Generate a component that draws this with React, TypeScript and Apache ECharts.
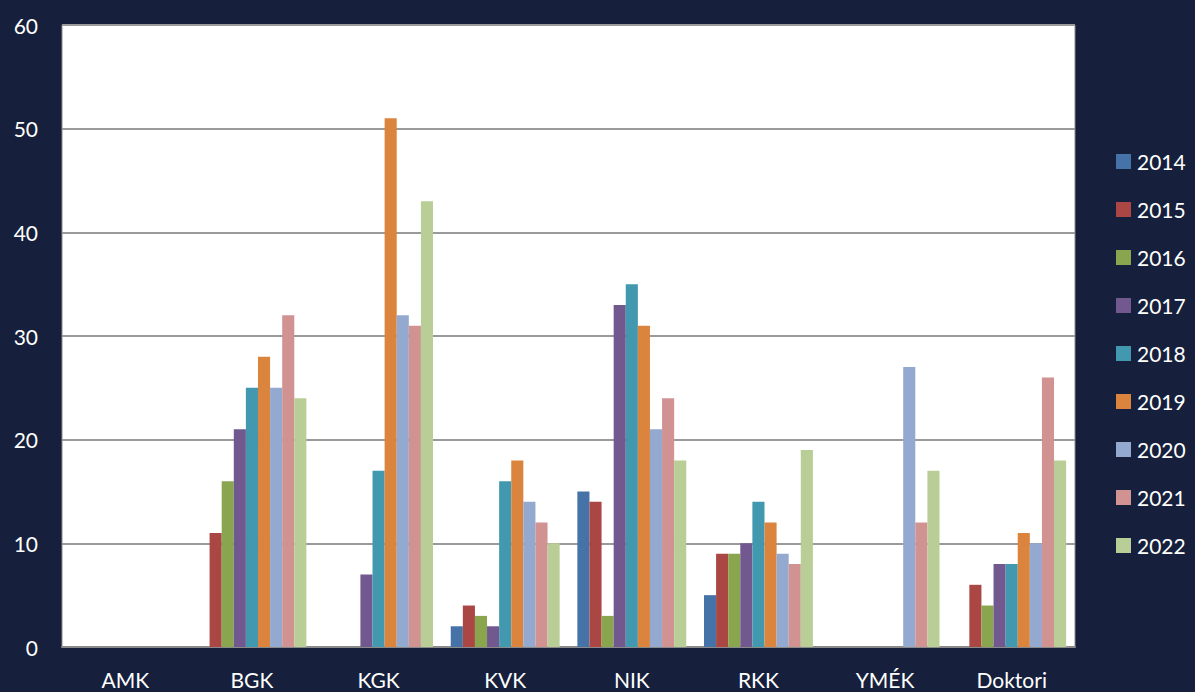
import React, { useEffect, useRef } from "react";
import * as echarts from "echarts";

const categories = ["AMK", "BGK", "KGK", "KVK", "NIK", "RKK", "YMÉK", "Doktori"];
const years = ["2014", "2015", "2016", "2017", "2018", "2019", "2020", "2021", "2022"];
const colors = ["#4572A7", "#AA4643", "#89A54E", "#71588F", "#4198AF", "#DB843D", "#93A9CF", "#D19392", "#B9CD96"];

const v2014 = [0, 0, 0, 2, 15, 5, 0, 0];
const v2015 = [0, 11, 0, 4, 14, 9, 0, 6];
const v2016 = [0, 16, 0, 3, 3, 9, 0, 4];
const v2017 = [0, 21, 7, 2, 33, 10, 0, 8];
const v2018 = [0, 25, 17, 16, 35, 14, 0, 8];
const v2019 = [0, 28, 51, 18, 31, 12, 0, 11];
const v2020 = [0, 25, 32, 14, 21, 9, 27, 10];
const v2021 = [0, 32, 31, 12, 24, 8, 12, 26];
const v2022 = [0, 24, 43, 10, 18, 19, 17, 18];
const seriesValues = [v2014, v2015, v2016, v2017, v2018, v2019, v2020, v2021, v2022];

const yTicks = { min: 0, max: 60, interval: 10 };

export default function App() {
  const ref = useRef<HTMLDivElement>(null);
  useEffect(() => {
    if (!ref.current) return;
    const chart = echarts.init(ref.current, undefined, { renderer: "svg" });
    const font = "Lato, 'Open Sans', sans-serif";
    chart.setOption({
      animation: false,
      backgroundColor: "#161f3b",
      grid: {
        left: 62,
        right: 120,
        top: 25,
        bottom: 45,
        show: true,
        backgroundColor: "#ffffff",
        borderColor: "#8a8a8a",
        borderWidth: 1,
      },
      legend: {
        orient: "vertical",
        left: 1111,
        top: 146,
        itemWidth: 15,
        itemHeight: 15,
        itemGap: 27,
        icon: "rect",
        textStyle: { color: "#ffffff", fontSize: 21, fontFamily: font, padding: [0, 0, 0, 1] },
        data: years,
      },
      xAxis: {
        type: "category",
        data: categories,
        axisLine: { show: true, lineStyle: { color: "#8a8a8a", width: 2 } },
        axisTick: { show: false },
        axisLabel: { color: "#ffffff", fontSize: 21, fontFamily: font, margin: 22 },
        splitLine: { show: false },
      },
      yAxis: {
        type: "value",
        min: yTicks.min,
        max: yTicks.max,
        interval: yTicks.interval,
        axisLine: { show: false },
        axisTick: { show: false },
        axisLabel: { color: "#ffffff", fontSize: 21, fontFamily: font, margin: 24 },
        splitLine: { show: true, lineStyle: { color: "#9a9a9a", width: 2 } },
      },
      series: years.map((y, i) => ({
        name: y,
        type: "bar",
        data: seriesValues[i],
        barGap: "0%",
        barCategoryGap: "14%",
        itemStyle: { color: colors[i] },
      })),
    });
    return () => chart.dispose();
  }, []);
  return <div ref={ref} style={{ width: 1195, height: 692, position: "absolute", left: 0, top: 0 }} />;
}
